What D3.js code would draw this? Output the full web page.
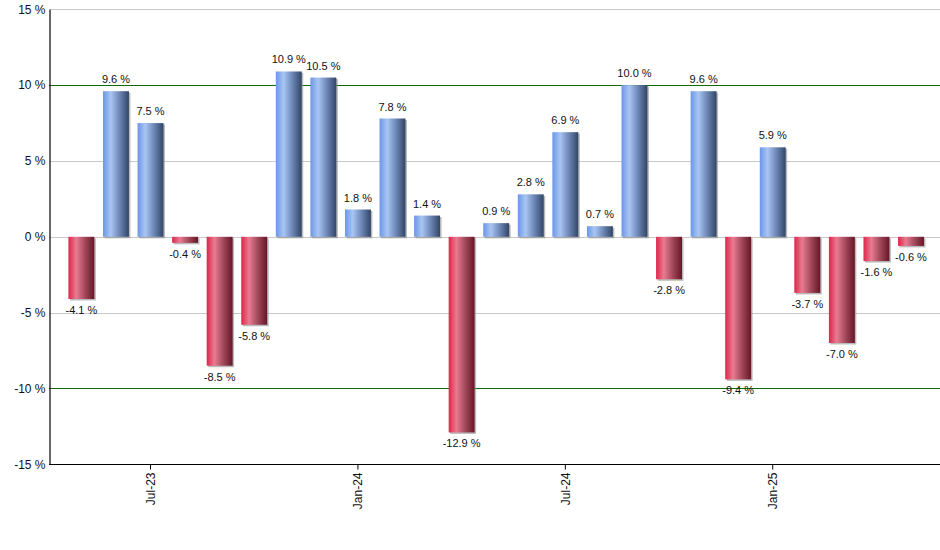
<!DOCTYPE html>
<html>
<head>
<meta charset="utf-8">
<script src="https://cdn.jsdelivr.net/npm/d3@7"></script>
<style>
  body { margin: 0; background: #fff; }
  svg { font-family: "Liberation Sans", Arial, sans-serif; }
</style>
</head>
<body>
<svg id="chart" width="940" height="550"></svg>
<script>
// Monthly returns (%)
const months = ["May-23","Jun-23","Jul-23","Aug-23","Sep-23","Oct-23","Nov-23","Dec-23",
                "Jan-24","Feb-24","Mar-24","Apr-24","May-24","Jun-24","Jul-24","Aug-24",
                "Sep-24","Oct-24","Nov-24","Dec-24","Jan-25","Feb-25","Mar-25","Apr-25","May-25"];
const returns = [-4.1, 9.6, 7.5, -0.4, -8.5, -5.8, 10.9, 10.5, 1.8, 7.8, 1.4, -12.9,
                 0.9, 2.8, 6.9, 0.7, 10.0, -2.8, 9.6, -9.4, 5.9, -3.7, -7.0, -1.6, -0.6];
const yTicks = [-15, -10, -5, 0, 5, 10, 15];
const xTickLabels = ["Jul-23", "Jan-24", "Jul-24", "Jan-25"];
const refLines = [-10, 10];

const data = months.map((m, i) => ({ month: m, value: returns[i] }));

const svg = d3.select("#chart");
const plotLeft = 49, plotRight = 940, plotTop = 9.3, plotBottom = 464.3;

const x = d3.scaleBand()
  .domain(months)
  .range([64.1, 928.3])
  .paddingInner(0.25)
  .paddingOuter(0.125);

const y = d3.scaleLinear()
  .domain([-15, 15])
  .range([plotBottom, plotTop]);

// Gradients
const defs = svg.append("defs");
function grad(id, stops) {
  const g = defs.append("linearGradient").attr("id", id)
    .attr("x1", "0%").attr("x2", "100%").attr("y1", "0%").attr("y2", "0%");
  stops.forEach(s => g.append("stop").attr("offset", s[0]).attr("stop-color", s[1]));
}
grad("gBlue", [[0, "#6b97e8"], [0.3, "#a9c5f3"], [0.65, "#6a84b3"], [1, "#324566"]]);
grad("gRed", [[0, "#de2549"], [0.3, "#e97b91"], [0.65, "#a0475a"], [1, "#661626"]]);

// Grid lines
svg.append("g").selectAll("line")
  .data(yTicks.filter(t => t !== -15))
  .enter().append("line")
    .attr("x1", plotLeft).attr("x2", plotRight)
    .attr("y1", d => Math.round(y(d)) + 0.5).attr("y2", d => Math.round(y(d)) + 0.5)
    .attr("stroke", d => refLines.includes(d) ? "#0f6a0f" : "#c8c8c8")
    .attr("stroke-width", d => refLines.includes(d) ? 1.2 : 1);

// Bar shadows
svg.append("g").selectAll("rect")
  .data(data)
  .enter().append("rect")
    .attr("x", d => x(d.month) + 1.5)
    .attr("y", d => Math.min(y(d.value), y(0)) + 1.5)
    .attr("width", x.bandwidth())
    .attr("height", d => Math.abs(y(d.value) - y(0)))
    .attr("fill", "#8c8c8c")
    .attr("opacity", 0.6);

// Bars
svg.append("g").selectAll("rect")
  .data(data)
  .enter().append("rect")
    .attr("x", d => x(d.month))
    .attr("y", d => Math.min(y(d.value), y(0)))
    .attr("width", x.bandwidth())
    .attr("height", d => Math.abs(y(d.value) - y(0)))
    .attr("fill", d => d.value >= 0 ? "url(#gBlue)" : "url(#gRed)");

// Value labels
svg.append("g").selectAll("text")
  .data(data)
  .enter().append("text")
    .attr("x", d => x(d.month) + x.bandwidth() / 2)
    .attr("y", d => d.value >= 0 ? y(d.value) - 8 : y(d.value) + 15)
    .attr("text-anchor", "middle")
    .style("font-size", "11px")
    .attr("fill", "#111")
    .text(d => d.value.toFixed(1) + " %");

// Y axis
const yAxis = svg.append("g")
  .attr("transform", `translate(${plotLeft + 0.5},0)`)
  .call(d3.axisLeft(y).tickValues(yTicks).tickSize(0).tickPadding(4).tickFormat(d => d + " %"));
yAxis.select(".domain").attr("stroke", "#000").attr("stroke-width", 1.2);
yAxis.selectAll("text").style("font-size", "12px").attr("fill", "#111");

// X axis
const xAxis = svg.append("g")
  .attr("transform", `translate(0,${Math.round(plotBottom) + 0.5})`)
  .call(d3.axisBottom(x).tickValues(xTickLabels).tickSize(5).tickSizeOuter(0));
xAxis.select(".domain").attr("d", `M${plotLeft},0H${plotRight}`).attr("stroke", "#000").attr("stroke-width", 1.2);
xAxis.selectAll(".tick line").attr("stroke", "#000");
xAxis.selectAll("text")
  .style("font-size", "12px")
  .attr("fill", "#111")
  .attr("transform", "rotate(-90)")
  .attr("text-anchor", "end")
  .attr("x", -8)
  .attr("y", 0)
  .attr("dy", "0.35em");
</script>
</body>
</html>
